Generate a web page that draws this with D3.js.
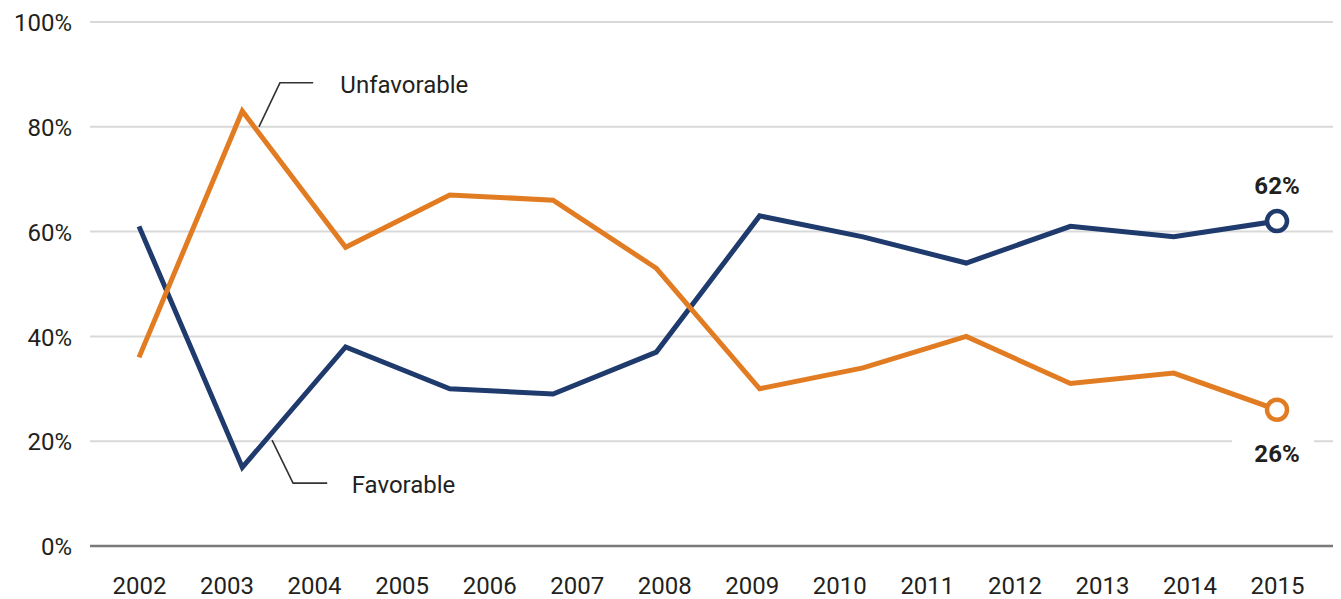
<!DOCTYPE html>
<html>
<head>
<meta charset="utf-8">
<script src="https://cdn.jsdelivr.net/npm/d3@7"></script>
<style>
  body { margin: 0; background: #fff; }
  svg text { font-family: Roboto, "Noto Sans", sans-serif; fill: #231f20; }
</style>
</head>
<body>
<svg id="chart"></svg>
<script>
// survey dates (fractional years) and the two series
var surveyDates = [2002, 2003.18, 2004.36, 2005.55, 2006.73, 2007.91, 2009.09, 2010.27, 2011.45, 2012.64, 2013.82, 2015];
var favorable   = [61, 15, 38, 30, 29, 37, 63, 59, 54, 61, 59, 62];
var unfavorable = [36, 83, 57, 67, 66, 53, 30, 34, 40, 31, 33, 26];
var yearLabels  = [2002, 2003, 2004, 2005, 2006, 2007, 2008, 2009, 2010, 2011, 2012, 2013, 2014, 2015];
var yTicks      = [0, 20, 40, 60, 80, 100];

var screen = {width:1341, height:599};
var margins = {left:90, right:8, top:22, bottom:53};

var svg = d3.select("#chart")
    .attr("width", screen.width)
    .attr("height", screen.height);

// years sit between the plot edges, inset from the gridline ends
var xScale = d3.scaleLinear()
    .domain([2002, 2015])
    .range([139, 1277]);

var yScale = d3.scaleLinear()
    .domain([0, 100])
    .range([screen.height - margins.bottom, margins.top]);

// gridlines
svg.append("g")
    .selectAll("line")
    .data(yTicks.filter(function(d){ return d > 0; }))
    .enter()
    .append("line")
    .attr("x1", margins.left)
    .attr("x2", screen.width - margins.right)
    .attr("y1", function(d){ return yScale(d); })
    .attr("y2", function(d){ return yScale(d); })
    .attr("stroke", "#d9d9d9")
    .attr("stroke-width", 2);

// baseline
svg.append("line")
    .attr("x1", margins.left)
    .attr("x2", screen.width - margins.right)
    .attr("y1", yScale(0))
    .attr("y2", yScale(0))
    .attr("stroke", "#7a7a7a")
    .attr("stroke-width", 2.5);

// y axis labels
var yAxis = d3.axisLeft(yScale)
    .tickValues(yTicks)
    .tickSize(0)
    .tickPadding(0)
    .tickFormat(function(d){ return d + "%"; });

var yG = svg.append("g")
    .attr("transform", "translate(72,0)")
    .call(yAxis);
yG.select(".domain").remove();
yG.selectAll("text")
    .attr("font-size", 24)
    .attr("dy", "0.36em")
    .style("font-family", "Roboto, sans-serif")
    .attr("fill", "#231f20");

// x axis labels
var xAxis = d3.axisBottom(xScale)
    .tickValues(yearLabels)
    .tickSize(0)
    .tickPadding(0)
    .tickFormat(d3.format("d"));

var xG = svg.append("g")
    .attr("transform", "translate(0,585)")
    .call(xAxis);
xG.select(".domain").remove();
xG.selectAll("text")
    .attr("font-size", 24)
    .attr("dy", "0.36em")
    .style("font-family", "Roboto, sans-serif")
    .attr("fill", "#231f20");

var line = d3.line()
    .x(function(d){ return xScale(d.date); })
    .y(function(d){ return yScale(d.value); });

var series = [
    {name:"Favorable", color:"#1f3a6c", values:favorable},
    {name:"Unfavorable", color:"#e27c22", values:unfavorable}
];

series.forEach(function(s)
{
    var pts = s.values.map(function(v, i){ return {date:surveyDates[i], value:v}; });
    s.points = pts;
    svg.append("path")
        .datum(pts)
        .attr("d", line)
        .attr("fill", "none")
        .attr("stroke", s.color)
        .attr("stroke-width", 5)
        .attr("stroke-linejoin", "miter");
});

// leader lines for the series names
var leaders = [
    {label:"Unfavorable", pts:[[2003.37, 80], [2003.61, 88.4], [2003.99, 88.4]], text:[2004.30, 86.4]},
    {label:"Favorable",   pts:[[2003.52, 20.2], [2003.76, 12], [2004.15, 12]],   text:[2004.43, 10.1]}
];

leaders.forEach(function(l)
{
    svg.append("path")
        .attr("d", d3.line()
            .x(function(p){ return xScale(p[0]); })
            .y(function(p){ return yScale(p[1]); })(l.pts))
        .attr("fill", "none")
        .attr("stroke", "#333")
        .attr("stroke-width", 1.6);
    svg.append("text")
        .attr("x", xScale(l.text[0]))
        .attr("y", yScale(l.text[1]))
        .attr("font-size", 24)
        .text(l.label);
});

// end markers and value labels
var last = surveyDates.length - 1;

// white patch behind the lower label breaks the 20% gridline
svg.append("rect")
    .attr("x", xScale(2015) - 45)
    .attr("y", yScale(21))
    .attr("width", 82)
    .attr("height", 30)
    .attr("fill", "#fff");

series.forEach(function(s)
{
    var p = s.points[last];
    svg.append("circle")
        .attr("cx", xScale(p.date))
        .attr("cy", yScale(p.value))
        .attr("r", 10)
        .attr("fill", "#fff")
        .attr("stroke", s.color)
        .attr("stroke-width", 4.5);
});

svg.append("text")
    .attr("x", xScale(2015))
    .attr("y", yScale(favorable[last]) - 27)
    .attr("text-anchor", "middle")
    .attr("font-size", 24)
    .attr("font-weight", "bold")
    .text(favorable[last] + "%");

svg.append("text")
    .attr("x", xScale(2015))
    .attr("y", yScale(unfavorable[last]) + 52)
    .attr("text-anchor", "middle")
    .attr("font-size", 24)
    .attr("font-weight", "bold")
    .text(unfavorable[last] + "%");
</script>
</body>
</html>
